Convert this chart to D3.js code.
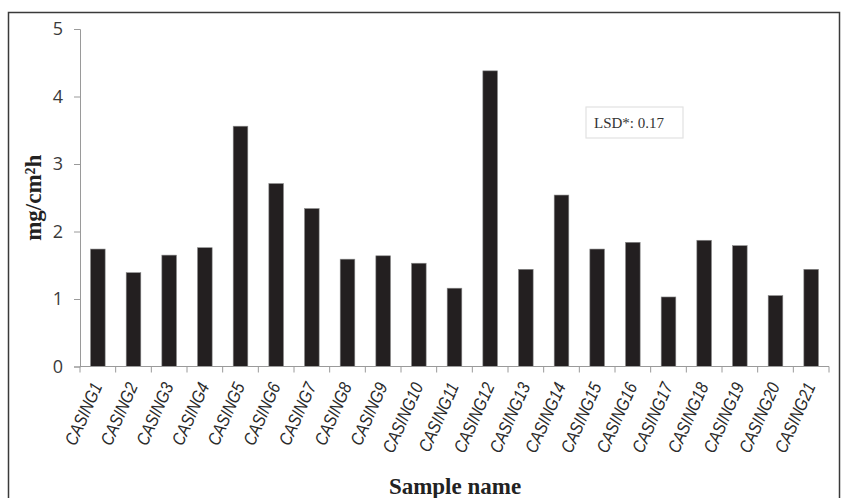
<!DOCTYPE html>
<html><head><meta charset="utf-8">
<script src="https://cdn.jsdelivr.net/npm/d3@7"></script>
<style>html,body{margin:0;padding:0;background:#fff;}svg{display:block;}</style>
</head><body>
<svg id="chart" width="841" height="498"></svg>
<script>
const categories = ["CASING1","CASING2","CASING3","CASING4","CASING5","CASING6","CASING7","CASING8","CASING9","CASING10","CASING11","CASING12","CASING13","CASING14","CASING15","CASING16","CASING17","CASING18","CASING19","CASING20","CASING21"];
const values = [1.74,1.39,1.65,1.76,3.56,2.71,2.34,1.59,1.64,1.53,1.16,4.38,1.44,2.54,1.74,1.84,1.03,1.87,1.79,1.05,1.44];
const yTicks = [0,1,2,3,4,5];
const yTitle = "mg/cm²h";
const xTitle = "Sample name";
const lsdText = "LSD*: 0.17";

const svg = d3.select("#chart");
const mLeft = 80, mRight = 829, mTop = 29, mBottom = 366.5;

svg.append("rect").attr("x",8.5).attr("y",12.5).attr("width",831).attr("height",500)
  .attr("fill","#fff").attr("stroke","#3a3a3a").attr("stroke-width",1.5);

const x = d3.scaleBand().domain(categories).range([mLeft,mRight]).paddingInner(0.59).paddingOuter(0.295);
const y = d3.scaleLinear().domain([0,5]).range([mBottom,mTop]);

// bars
svg.append("g").selectAll("rect").data(values).join("rect")
  .attr("x",(d,i)=>x(categories[i]))
  .attr("y",d=>y(d))
  .attr("width",x.bandwidth())
  .attr("height",d=>y(0)-y(d))
  .attr("fill","#231f20")
  .attr("stroke","#8a8a8a").attr("stroke-width",0.6);

// y axis
const yAxis = d3.axisLeft(y).tickValues(yTicks).tickSize(6).tickPadding(11).tickFormat(d3.format("d"));
const gy = svg.append("g").attr("transform",`translate(${mLeft},0)`).call(yAxis);
gy.select(".domain").attr("stroke","#9a9a9a");
gy.selectAll(".tick line").attr("stroke","#9a9a9a");
gy.selectAll(".tick text").attr("font-family","'Open Sans','Liberation Sans',sans-serif").attr("font-size",18).attr("fill","#3a3a3a");

// x axis line and boundary ticks
svg.append("line").attr("x1",mLeft).attr("x2",mRight).attr("y1",y(0)).attr("y2",y(0)).attr("stroke","#9a9a9a");
const step = x.step();
svg.append("g").selectAll("line").data(d3.range(categories.length+1)).join("line")
  .attr("x1",i=>mLeft+i*step).attr("x2",i=>mLeft+i*step)
  .attr("y1",y(0)).attr("y2",y(0)+6).attr("stroke","#9a9a9a");

// x labels
svg.append("g").selectAll("text").data(categories).join("text")
  .attr("transform",d=>`translate(${x(d)+x.bandwidth()/2-1},${y(0)+17}) rotate(-66) scale(0.84,1)`)
  .attr("text-anchor","end").attr("dy","0.35em")
  .attr("font-family","'Liberation Sans',Arial,sans-serif").attr("font-style","italic")
  .attr("font-size",18).attr("fill","#2a2a2a").text(d=>d);

// titles
svg.append("text").attr("transform",`translate(41,${(mTop+mBottom)/2}) rotate(-90)`)
  .attr("text-anchor","middle").attr("font-family","'Liberation Serif','Times New Roman',serif")
  .attr("font-weight","bold").attr("font-size",23).attr("fill","#222").text(yTitle);
svg.append("text").attr("x",455).attr("y",494).attr("text-anchor","middle")
  .attr("font-family","'Liberation Serif','Times New Roman',serif")
  .attr("font-weight","bold").attr("font-size",23).attr("fill","#222").text(xTitle);

// LSD box
svg.append("rect").attr("x",586).attr("y",107).attr("width",97).attr("height",31)
  .attr("fill","#fff").attr("stroke","#e2e2e2").attr("stroke-width",1.2);
svg.append("text").attr("x",594).attr("y",128)
  .attr("font-family","'Liberation Serif','Times New Roman',serif")
  .attr("font-size",15).attr("fill","#333").text(lsdText);
</script>
</body></html>
